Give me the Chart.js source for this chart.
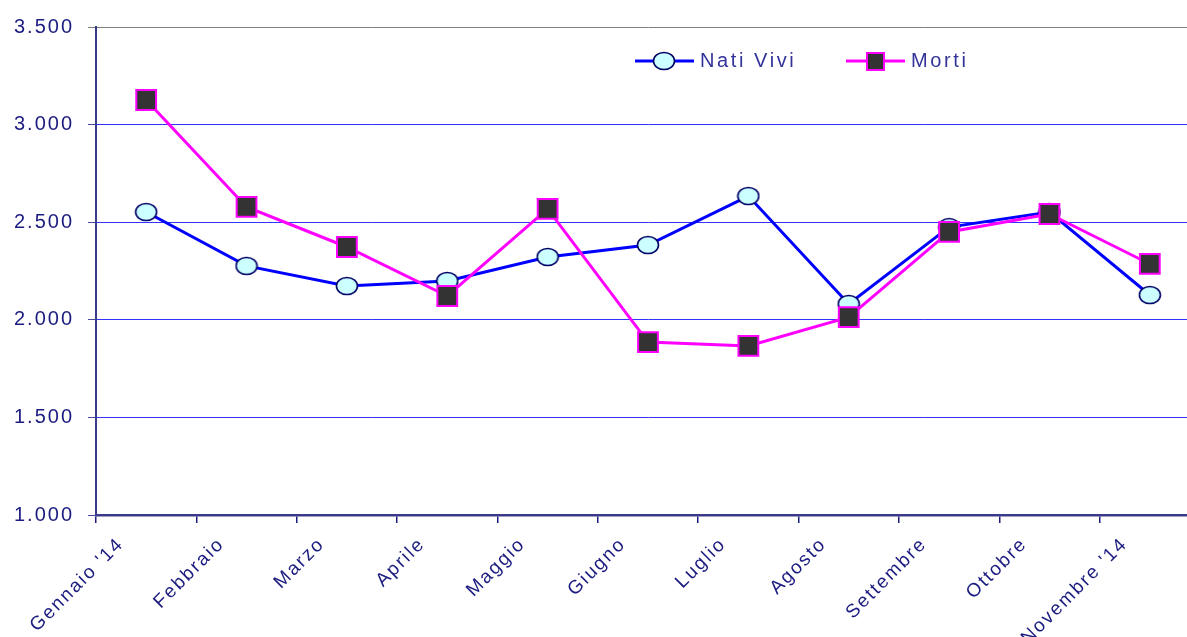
<!DOCTYPE html>
<html>
<head>
<meta charset="utf-8">
<script src="https://cdn.jsdelivr.net/npm/chart.js@4.4.1/dist/chart.umd.min.js"></script>
<style>
  body { margin: 0; overflow: hidden; background: #fff; }
</style>
</head>
<body>
<canvas id="chart" width="1200" height="637"></canvas>
<script>
const months = ["Gennaio '14", "Febbraio", "Marzo", "Aprile", "Maggio", "Giugno",
    "Luglio", "Agosto", "Settembre", "Ottobre", "Novembre '14"];
const natiVivi = [2552, 2276, 2173, 2199, 2322, 2383, 2634, 2081, 2475, 2552, 2127];
const morti = [3126, 2578, 2373, 2122, 2568, 1886, 1866, 2014, 2450, 2542, 2286];
const yTicks = [1000, 1500, 2000, 2500, 3000, 3500];

const navy = "#1c1c80";
const FONT = "Liberation Sans, Arial, sans-serif";

// ellipse marker like the original
function ellipseMarker() {
    const c = document.createElement("canvas");
    c.width = 24;
    c.height = 20;
    const g = c.getContext("2d");
    g.beginPath();
    g.ellipse(12, 10, 10.5, 8.5, 0, 0, Math.PI * 2);
    g.fillStyle = "#ccffff";
    g.fill();
    g.lineWidth = 1.6;
    g.strokeStyle = "#000066";
    g.stroke();
    return c;
}
const circleImg = ellipseMarker();

function formatThousands(v) {
    return String(v).replace(/\B(?=(\d{3})+(?!\d))/g, ".");
}

const spacing = {
    id: "spacing",
    beforeLayout(chart) { chart.ctx.letterSpacing = "2px"; },
    beforeDraw(chart) { chart.ctx.letterSpacing = "2px"; },
};

const legendBox = {
    id: "legendBox",
    afterDraw(chart) {
        const ctx = chart.ctx;
        const y = 61;
        ctx.save();
        ctx.letterSpacing = "2.6px";
        ctx.font = "20px " + FONT;
        ctx.fillStyle = "#333399";
        ctx.textBaseline = "middle";
        // Nati Vivi
        ctx.strokeStyle = "#0000ff";
        ctx.lineWidth = 3;
        ctx.beginPath();
        ctx.moveTo(635, y);
        ctx.lineTo(694, y);
        ctx.stroke();
        ctx.drawImage(circleImg, 664 - 12, y - 10);
        ctx.fillText(chart.data.datasets[0].label, 700, y);
        // Morti
        ctx.strokeStyle = "#ff00ff";
        ctx.beginPath();
        ctx.moveTo(846, y);
        ctx.lineTo(905, y);
        ctx.stroke();
        ctx.fillStyle = "#333333";
        ctx.fillRect(867, y - 8, 17, 17);
        ctx.lineWidth = 2;
        ctx.strokeRect(867, y - 8, 17, 17);
        ctx.fillStyle = "#333399";
        ctx.fillText(chart.data.datasets[1].label, 911, y);
        ctx.restore();
    },
};

new Chart(document.getElementById("chart"), {
    type: "line",
    data: {
        datasets: [
            {
                label: "Nati Vivi",
                data: natiVivi.map((v, i) => ({ x: i + 0.5, y: v })),
                borderColor: "#0000ff",
                borderWidth: 3,
                pointStyle: circleImg,
                order: 2,
            },
            {
                label: "Morti",
                data: morti.map((v, i) => ({ x: i + 0.5, y: v })),
                borderColor: "#ff00ff",
                borderWidth: 3,
                pointStyle: "rect",
                pointRadius: 14,
                pointBackgroundColor: "#333333",
                pointBorderColor: "#ff00ff",
                pointBorderWidth: 2,
                order: 1,
            },
        ],
    },
    options: {
        responsive: false,
        animation: false,
        layout: { autoPadding: false, padding: { top: 27, right: 0, left: 0, bottom: 0 } },
        plugins: { legend: { display: false }, tooltip: { enabled: false } },
        scales: {
            x: {
                type: "linear",
                min: 0,
                max: months.length,
                afterBuildTicks(scale) {
                    scale.ticks = months.map((m, i) => ({ value: i }));
                },
                afterFit(scale) {
                    scale.height = 122;
                    scale.paddingRight = 0;
                    scale.paddingLeft = 0;
                },
                ticks: {
                    minRotation: 45,
                    maxRotation: 45,
                    padding: 10,
                    labelOffset: 25,
                    color: navy,
                    font: { family: FONT, size: 19 },
                    callback: (v) => months[v],
                },
                grid: {
                    drawOnChartArea: false,
                    tickLength: 8,
                    tickColor: navy,
                    lineWidth: 1.5,
                },
                border: { color: "#3a3a8a", width: 2.5 },
            },
            y: {
                min: 1000,
                max: 3500,
                afterBuildTicks(scale) {
                    scale.ticks = yTicks.map((v) => ({ value: v }));
                },
                afterFit(scale) { scale.width = 96; },
                ticks: {
                    padding: 14,
                    color: navy,
                    font: { family: FONT, size: 20 },
                    callback: (v) => formatThousands(v),
                },
                grid: {
                    color: (c) => (c.tick && c.tick.value === 3500 ? "#808080" : "#3333ff"),
                    lineWidth: 1,
                    tickLength: 8,
                    tickColor: (c) => (c.tick && c.tick.value === 3500 ? "#808080" : "#4a4a9a"),
                },
                border: { color: "#3a3a8a", width: 2 },
            },
        },
    },
    plugins: [spacing, legendBox],
});
</script>
</body>
</html>
